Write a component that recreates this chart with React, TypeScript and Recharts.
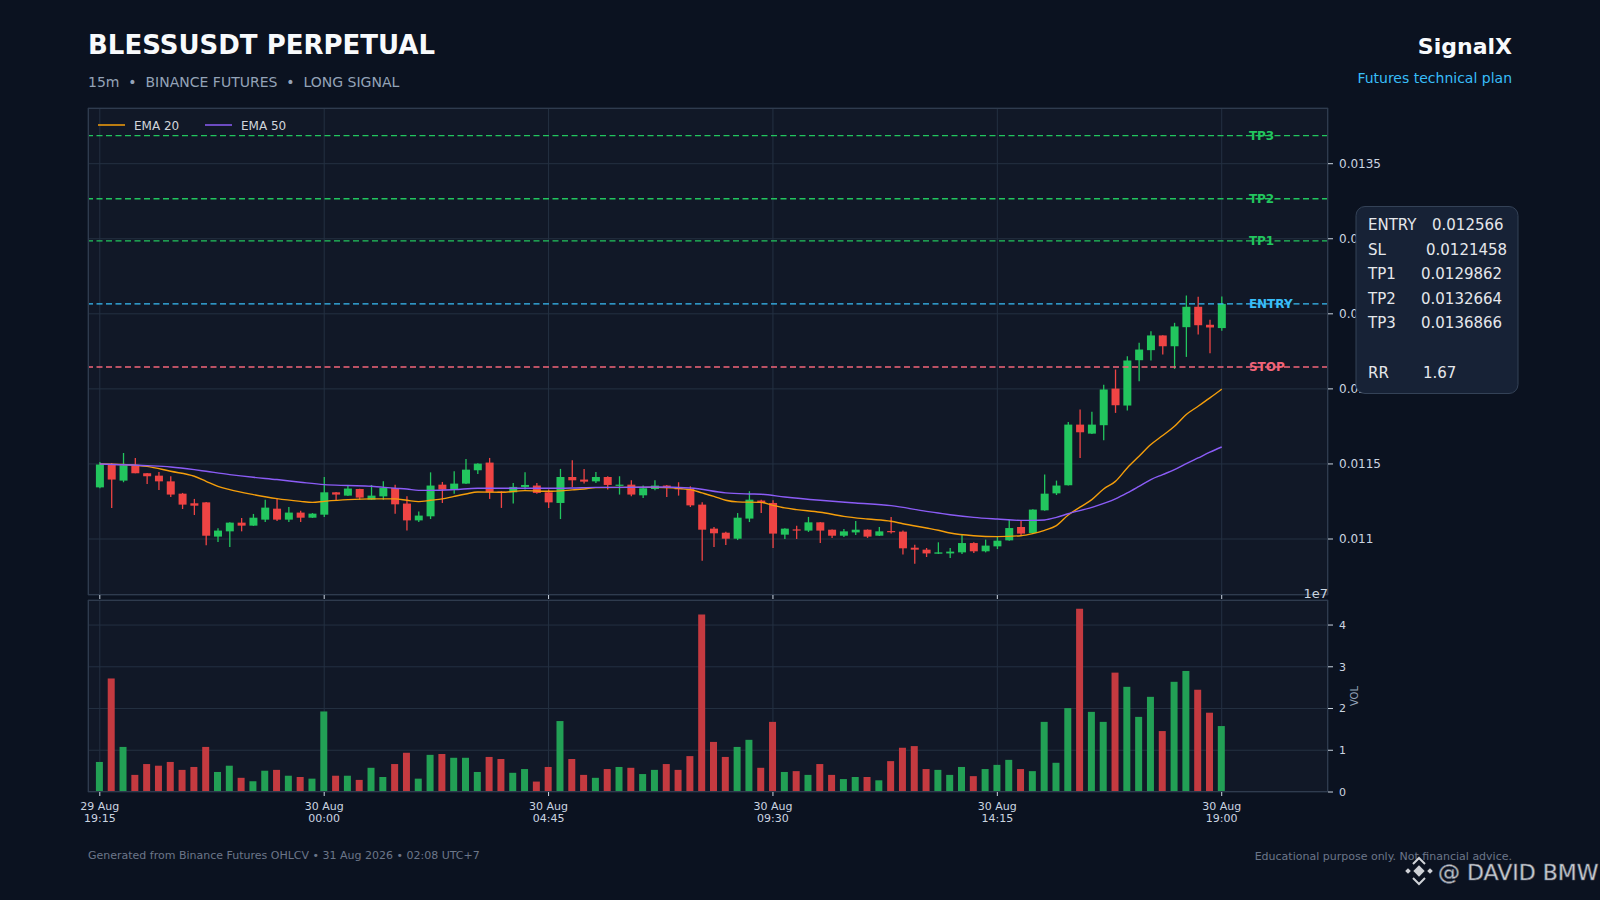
import { ComposedChart, Bar, Line, XAxis, YAxis, CartesianGrid, ReferenceLine, Cell } from "recharts";

// page + panel geometry (px)
const W = 1600;
const H = 900;
const PLOT_L = 88;
const PLOT_R = 1328;
const PRICE_TOP = 108;
const PRICE_BOTTOM = 595;
const VOL_TOP = 600;
const VOL_BOTTOM = 792;
const YAXIS_W = 60;

const BG = "#0b1220";
const PANEL = "#111827";
const GRID = "#243042";
const BORDER = "#2f3b4e";
const TICK = "#cbd5e1";
const GREEN = "#22c55e";
const RED = "#ef4444";
const VOL_GREEN = "#22a055";
const VOL_RED = "#c43a40";
const EMA20_COLOR = "#f59e0b";
const EMA50_COLOR = "#8b5cf6";
const ENTRY_COLOR = "#38bdf8";
const STOP_COLOR = "#f26479";
const FONT = "'DejaVu Sans', sans-serif";

// axes
const X_DOMAIN = [-1, 104];
const X_TICKS = [0, 19, 38, 57, 76, 95];
const X_TICK_LABELS = [
  ["29 Aug", "19:15"],
  ["30 Aug", "00:00"],
  ["30 Aug", "04:45"],
  ["30 Aug", "09:30"],
  ["30 Aug", "14:15"],
  ["30 Aug", "19:00"],
];
const PRICE_DOMAIN = [0.010627, 0.013871];
const PRICE_TICKS = [0.011, 0.0115, 0.012, 0.0125, 0.013, 0.0135];
const PRICE_TICK_LABELS = ["0.011", "0.0115", "0.012", "0.0125", "0.013", "0.0135"];
const VOL_DOMAIN = [0, 4.6];
const VOL_TICKS = [0, 1, 2, 3, 4];

// signal levels
const ENTRY = 0.012566;
const SL = 0.0121458;
const TP1 = 0.0129862;
const TP2 = 0.0132664;
const TP3 = 0.0136866;
const RR = 1.67;

// 15m candles, 29 Aug 19:15 -> 30 Aug 19:00
const OPEN = [
  0.011344, 0.011496, 0.011389, 0.011489, 0.011438, 0.011422, 0.011384, 0.011302, 0.011238, 0.011244,
  0.011016, 0.011051, 0.011109, 0.011089, 0.011129, 0.011202, 0.011129, 0.011176, 0.011142, 0.011162,
  0.011311, 0.011289, 0.011333, 0.011262, 0.011284, 0.01134, 0.011236, 0.011124, 0.011151, 0.011362,
  0.011329, 0.011369, 0.011458, 0.011509, 0.011316, 0.011311, 0.011347, 0.011356, 0.011311, 0.01124,
  0.011413, 0.011396, 0.011384, 0.011413, 0.011356, 0.011362, 0.011291, 0.011333, 0.011356, 0.011342,
  0.011333, 0.011229, 0.011069, 0.011042, 0.011002, 0.011136, 0.011256, 0.01124, 0.011029, 0.011064,
  0.011056, 0.011111, 0.011062, 0.011022, 0.011044, 0.011062, 0.011022, 0.011053, 0.011049, 0.010942,
  0.010929, 0.010902, 0.010904, 0.010911, 0.010973, 0.010918, 0.010951, 0.010991, 0.01108, 0.01104,
  0.011191, 0.011304, 0.011358, 0.011762, 0.011702, 0.011758, 0.012002, 0.011889, 0.012191, 0.012258,
  0.012356, 0.012284, 0.012411, 0.012547, 0.012427, 0.012405,
];
const HIGH = [
  0.011513, 0.011507, 0.011573, 0.01154, 0.01144, 0.011447, 0.011418, 0.011307, 0.011267, 0.011247,
  0.011071, 0.011111, 0.01114, 0.011167, 0.011262, 0.011267, 0.011213, 0.011189, 0.011173, 0.011413,
  0.011313, 0.01136, 0.011335, 0.01136, 0.011384, 0.011362, 0.011284, 0.011184, 0.011444, 0.01138,
  0.011451, 0.011533, 0.011504, 0.01154, 0.011318, 0.011373, 0.011444, 0.011373, 0.011329, 0.011467,
  0.011524, 0.011467, 0.011447, 0.011418, 0.011418, 0.011391, 0.011356, 0.011391, 0.01136, 0.011378,
  0.011351, 0.011244, 0.01108, 0.011049, 0.011173, 0.011318, 0.011262, 0.011258, 0.011071, 0.011089,
  0.011147, 0.011113, 0.011064, 0.011067, 0.01112, 0.011064, 0.01108, 0.011147, 0.011056, 0.010962,
  0.01094, 0.010978, 0.01094, 0.011029, 0.010978, 0.010996, 0.011018, 0.011129, 0.011124, 0.011198,
  0.011429, 0.011389, 0.01178, 0.011862, 0.011847, 0.012027, 0.012129, 0.012218, 0.012307, 0.012384,
  0.012358, 0.01244, 0.012622, 0.012613, 0.01246, 0.012615,
];
const LOW = [
  0.011338, 0.011207, 0.011378, 0.011438, 0.011367, 0.011327, 0.01128, 0.0112, 0.01116, 0.010958,
  0.01098, 0.010947, 0.011051, 0.011087, 0.011113, 0.01112, 0.011113, 0.011113, 0.01114, 0.011147,
  0.011256, 0.011287, 0.011262, 0.01126, 0.011262, 0.011169, 0.011056, 0.011113, 0.011133, 0.01124,
  0.011302, 0.011367, 0.011433, 0.011267, 0.011207, 0.011236, 0.011329, 0.011302, 0.011207, 0.011133,
  0.011347, 0.011369, 0.011373, 0.011329, 0.011296, 0.011284, 0.011273, 0.011324, 0.01128, 0.011289,
  0.011213, 0.010855, 0.010947, 0.01096, 0.010993, 0.011113, 0.011173, 0.01094, 0.011, 0.011,
  0.011047, 0.010973, 0.011007, 0.011013, 0.011027, 0.011007, 0.01102, 0.011036, 0.010896, 0.010835,
  0.01088, 0.0109, 0.010873, 0.0109, 0.010907, 0.010911, 0.010933, 0.010989, 0.011022, 0.011036,
  0.011189, 0.011293, 0.011356, 0.01154, 0.0117, 0.011658, 0.01184, 0.011856, 0.012051, 0.012189,
  0.012229, 0.012133, 0.012213, 0.012362, 0.012238, 0.012387,
];
const CLOSE = [
  0.011496, 0.011396, 0.011491, 0.011438, 0.011418, 0.011384, 0.011296, 0.011229, 0.011222, 0.011022,
  0.011056, 0.011109, 0.011089, 0.011142, 0.011209, 0.011129, 0.011176, 0.011142, 0.011169, 0.011311,
  0.011296, 0.011336, 0.011276, 0.011289, 0.01134, 0.011231, 0.011124, 0.011156, 0.011356, 0.011329,
  0.011369, 0.011462, 0.011502, 0.011311, 0.011311, 0.011347, 0.01136, 0.011307, 0.011244, 0.011413,
  0.011391, 0.011382, 0.011413, 0.01136, 0.011362, 0.011296, 0.011338, 0.011356, 0.011342, 0.011331,
  0.011224, 0.011062, 0.011038, 0.011002, 0.011142, 0.011262, 0.01124, 0.011036, 0.011069, 0.011056,
  0.011111, 0.011056, 0.011022, 0.011051, 0.011062, 0.011016, 0.011051, 0.011047, 0.010938, 0.010929,
  0.010904, 0.010911, 0.010916, 0.010973, 0.010918, 0.010956, 0.010989, 0.011073, 0.011036, 0.011196,
  0.011302, 0.011356, 0.011762, 0.011711, 0.011762, 0.011996, 0.011891, 0.012189, 0.012262, 0.012356,
  0.012284, 0.012416, 0.012547, 0.012424, 0.012409, 0.012566,
];
// volume in units of 1e7
const VOLUME_E7 = [
  0.72, 2.72, 1.08, 0.41, 0.67, 0.63, 0.72, 0.53, 0.6, 1.08,
  0.48, 0.63, 0.34, 0.26, 0.51, 0.53, 0.39, 0.36, 0.32, 1.93,
  0.39, 0.39, 0.29, 0.58, 0.36, 0.67, 0.94, 0.32, 0.89, 0.91,
  0.82, 0.82, 0.48, 0.84, 0.79, 0.46, 0.55, 0.25, 0.6, 1.7,
  0.79, 0.41, 0.34, 0.55, 0.6, 0.58, 0.43, 0.53, 0.67, 0.53,
  0.86, 4.25, 1.2, 0.84, 1.08, 1.25, 0.58, 1.68, 0.48, 0.5,
  0.41, 0.67, 0.41, 0.31, 0.36, 0.36, 0.28, 0.74, 1.06, 1.1,
  0.55, 0.53, 0.41, 0.6, 0.38, 0.55, 0.65, 0.77, 0.55, 0.5,
  1.68, 0.7, 2.01, 4.39, 1.92, 1.68, 2.86, 2.52, 1.8, 2.28,
  1.46, 2.64, 2.9, 2.45, 1.9, 1.58,
];

// EMA lines as [candle index, value]
const EMA20_POINTS = [
  [0, 0.0115], [2, 0.011496], [4, 0.011484], [6, 0.011451], [8, 0.011418], [9, 0.011384],
  [10, 0.011351], [11, 0.011329], [13, 0.011296], [15, 0.011269], [17, 0.011251], [18, 0.011244],
  [19, 0.011251], [21, 0.011262], [23, 0.011267], [25, 0.011267], [26, 0.011258], [27, 0.011249],
  [28, 0.011258], [29, 0.011267], [30, 0.011284], [31, 0.0113], [32, 0.011313], [34, 0.011311],
  [36, 0.011322], [38, 0.011318], [40, 0.011327], [41, 0.011333], [42, 0.011342], [45, 0.011344],
  [47, 0.011344], [50, 0.011329], [51, 0.011307], [52, 0.011284], [53, 0.011258], [54, 0.011247],
  [56, 0.011244], [57, 0.011224], [58, 0.011207], [59, 0.011196], [61, 0.011178], [63, 0.011151],
  [65, 0.011133], [67, 0.011118], [68, 0.011102], [70, 0.011073], [71, 0.011058], [72, 0.01104],
  [74, 0.011022], [76, 0.011016], [78, 0.011022], [79, 0.011036], [80, 0.011058], [81, 0.011089],
  [82, 0.01116], [83, 0.011212], [84, 0.011262], [85, 0.011333], [86, 0.011384], [87, 0.011473],
  [88, 0.011551], [89, 0.011629], [90, 0.011689], [91, 0.011751], [92, 0.011829], [93, 0.011884],
  [94, 0.01194], [95, 0.011998],
];
const EMA50_POINTS = [
  [0, 0.0115], [4, 0.011489], [6, 0.01148], [8, 0.011462], [9, 0.011451], [11, 0.011429],
  [13, 0.011411], [15, 0.011396], [17, 0.011378], [19, 0.011362], [21, 0.011356], [23, 0.011351],
  [25, 0.011338], [26, 0.011333], [27, 0.011324], [28, 0.011324], [30, 0.011329], [32, 0.011338],
  [34, 0.011338], [36, 0.011338], [38, 0.011338], [40, 0.01134], [42, 0.011344], [44, 0.011344],
  [47, 0.011346], [50, 0.01134], [53, 0.011307], [55, 0.0113], [56, 0.011298], [58, 0.01128],
  [61, 0.011258], [64, 0.01124], [67, 0.011222], [70, 0.011184], [71, 0.011173], [72, 0.011162],
  [74, 0.011144], [76, 0.011133], [78, 0.011124], [79, 0.011124], [80, 0.011127], [81, 0.011144],
  [82, 0.011168], [84, 0.011211], [86, 0.011267], [87, 0.011307], [88, 0.011351], [89, 0.011396],
  [90, 0.011429], [91, 0.011462], [92, 0.011502], [93, 0.01154], [94, 0.011578], [95, 0.011613],
];

const ema20 = new Map(EMA20_POINTS.map(([i, v]) => [i, v]));
const ema50 = new Map(EMA50_POINTS.map(([i, v]) => [i, v]));

const rows = CLOSE.map((close, i) => ({
  i,
  open: OPEN[i],
  high: HIGH[i],
  low: LOW[i],
  close,
  range: [LOW[i], HIGH[i]],
  vol: VOLUME_E7[i],
  ema20: ema20.has(i) ? ema20.get(i) : null,
  ema50: ema50.has(i) ? ema50.get(i) : null,
}));

const LEVELS = [
  { name: "TP3", value: TP3, color: GREEN },
  { name: "TP2", value: TP2, color: GREEN },
  { name: "TP1", value: TP1, color: GREEN },
  { name: "ENTRY", value: ENTRY, color: ENTRY_COLOR },
  { name: "STOP", value: SL, color: STOP_COLOR },
];
const LEVEL_LABEL_X = 97.3; // candle-index position of the level tags

const INFO_ROWS = [
  { label: "ENTRY", value: "0.012566", vx: 1432 },
  { label: "SL", value: "0.0121458", vx: 1426 },
  { label: "TP1", value: "0.0129862", vx: 1421 },
  { label: "TP2", value: "0.0132664", vx: 1421 },
  { label: "TP3", value: "0.0136866", vx: 1421 },
];

function Candle(props: any) {
  const { x, y, width, height, payload } = props;
  if (!payload || !Number.isFinite(y)) return null;
  const { open, close, high, low } = payload;
  const top = Math.min(y, y + height);
  const h = Math.abs(height);
  const k = high > low ? h / (high - low) : 0;
  const py = (v: number) => top + (high - v) * k;
  const color = close >= open ? GREEN : RED;
  const cx = x + width / 2;
  const bodyTop = py(Math.max(open, close));
  const bodyH = Math.max(1.2, Math.abs(py(open) - py(close)));
  return (
    <g>
      <line x1={cx} x2={cx} y1={top} y2={top + h} stroke={color} strokeWidth={1.3} />
      <rect x={x} y={bodyTop} width={width} height={bodyH} fill={color} />
    </g>
  );
}

const EmptyTick = () => <g />;

function DateTick(props: any) {
  const { x, y, payload } = props;
  const idx = X_TICKS.indexOf(payload.value);
  if (idx < 0) return <g />;
  const [d, t] = X_TICK_LABELS[idx];
  return (
    <text textAnchor="middle" fill={TICK} fontSize={11} fontFamily={FONT}>
      <tspan x={x} y={y + 12}>{d}</tspan>
      <tspan x={x} y={y + 23.5}>{t}</tspan>
    </text>
  );
}

function levelLabel(name: string, color: string) {
  return (props: any) => {
    const vb = props.viewBox || {};
    const frac = (LEVEL_LABEL_X - X_DOMAIN[0]) / (X_DOMAIN[1] - X_DOMAIN[0]);
    return (
      <text
        x={vb.x + vb.width * frac}
        y={vb.y}
        dy="0.36em"
        fill={color}
        fontSize={12}
        fontWeight="bold"
        fontFamily={FONT}
      >
        {name}
      </text>
    );
  };
}

function PricePanel() {
  return (
    <ComposedChart
      width={W}
      height={H}
      data={rows}
      margin={{ top: PRICE_TOP, right: W - PLOT_R - YAXIS_W, bottom: H - PRICE_BOTTOM - 6, left: PLOT_L }}
    >
      <CartesianGrid stroke={GRID} fill={PANEL} fillOpacity={1} />
      <XAxis
        dataKey="i"
        type="number"
        domain={X_DOMAIN}
        ticks={X_TICKS}
        interval={0}
        allowDataOverflow
        height={6}
        tickSize={4}
        axisLine={false}
        tickLine={{ stroke: TICK }}
        tick={EmptyTick}
      />
      <YAxis
        orientation="right"
        type="number"
        domain={PRICE_DOMAIN}
        ticks={PRICE_TICKS}
        interval={0}
        allowDataOverflow
        width={YAXIS_W}
        tickSize={5}
        tickMargin={6}
        axisLine={false}
        tickLine={{ stroke: TICK }}
        tick={{ fill: TICK, fontSize: 12, fontFamily: FONT }}
        tickFormatter={(v) => PRICE_TICK_LABELS[PRICE_TICKS.indexOf(v)] ?? String(v)}
      />
      {LEVELS.map((l) => (
        <ReferenceLine
          key={l.name}
          y={l.value}
          stroke={l.color}
          strokeWidth={1.3}
          strokeDasharray="6 3.5"
          ifOverflow="extendDomain"
          label={levelLabel(l.name, l.color)}
        />
      ))}
      <Line type="monotone" dataKey="ema20" stroke={EMA20_COLOR} strokeWidth={1.4} dot={false} connectNulls isAnimationActive={false} />
      <Line type="monotone" dataKey="ema50" stroke={EMA50_COLOR} strokeWidth={1.4} dot={false} connectNulls isAnimationActive={false} />
      <Bar dataKey="range" barSize={8} shape={(p: any) => <Candle {...p} />} isAnimationActive={false} />
    </ComposedChart>
  );
}

function VolumePanel() {
  return (
    <ComposedChart
      width={W}
      height={H}
      data={rows}
      margin={{ top: VOL_TOP, right: W - PLOT_R - YAXIS_W, bottom: H - VOL_BOTTOM - 40, left: PLOT_L }}
    >
      <CartesianGrid stroke={GRID} fill={PANEL} fillOpacity={1} />
      <XAxis
        dataKey="i"
        type="number"
        domain={X_DOMAIN}
        ticks={X_TICKS}
        interval={0}
        allowDataOverflow
        height={40}
        tickSize={4}
        axisLine={false}
        tickLine={{ stroke: TICK }}
        tick={DateTick}
      />
      <YAxis
        orientation="right"
        type="number"
        domain={VOL_DOMAIN}
        ticks={VOL_TICKS}
        interval={0}
        allowDataOverflow
        width={YAXIS_W}
        tickSize={5}
        tickMargin={6}
        axisLine={false}
        tickLine={{ stroke: TICK }}
        tick={{ fill: TICK, fontSize: 11, fontFamily: FONT }}
      />
      <Bar dataKey="vol" barSize={7} isAnimationActive={false}>
        {rows.map((r) => (
          <Cell key={r.i} fill={r.close >= r.open ? VOL_GREEN : VOL_RED} />
        ))}
      </Bar>
    </ComposedChart>
  );
}

const layer: any = { position: "absolute", left: 0, top: 0, width: W, height: H };

export default function App() {
  return (
    <div style={{ ...layer, background: BG, fontFamily: FONT, overflow: "hidden" }}>
      <div style={layer}>
        <PricePanel />
      </div>
      <div style={layer}>
        <VolumePanel />
      </div>
      <svg style={{ ...layer, pointerEvents: "none" }} width={W} height={H} fontFamily={FONT}>
        {/* panel frames */}
        <rect x={PLOT_L + 0.5} y={PRICE_TOP + 0.5} width={PLOT_R - PLOT_L - 1} height={PRICE_BOTTOM - PRICE_TOP - 1} fill="none" stroke={BORDER} />
        <rect x={PLOT_L + 0.5} y={VOL_TOP + 0.5} width={PLOT_R - PLOT_L - 1} height={VOL_BOTTOM - VOL_TOP - 1} fill="none" stroke={BORDER} />

        {/* header */}
        <text x={88} y={54} fill="#f8fafc" fontSize={26} fontWeight="bold">BLESSUSDT PERPETUAL</text>
        <text x={88} y={86.5} fill="#94a3b8" fontSize={14} xmlSpace="preserve">15m  •  BINANCE FUTURES  •  LONG SIGNAL</text>
        <text x={1512} y={54} fill="#f8fafc" fontSize={22} fontWeight="bold" textAnchor="end">SignalX</text>
        <text x={1512} y={83} fill={ENTRY_COLOR} fontSize={14} textAnchor="end">Futures technical plan</text>

        {/* legend */}
        <line x1={98} x2={125} y1={125} y2={125} stroke={EMA20_COLOR} strokeWidth={1.5} />
        <text x={134} y={129.5} fill="#d1d5db" fontSize={12}>EMA 20</text>
        <line x1={205} x2={232} y1={125} y2={125} stroke={EMA50_COLOR} strokeWidth={1.5} />
        <text x={241} y={129.5} fill="#d1d5db" fontSize={12}>EMA 50</text>

        {/* volume axis extras */}
        <text x={PLOT_R} y={598} fill={TICK} fontSize={13} textAnchor="end">1e7</text>
        <text x={1354} y={696} fill="#94a3b8" fontSize={10} textAnchor="middle" dominantBaseline="central" transform="rotate(-90 1354 696)">VOL</text>

        {/* trade plan box */}
        <rect x={1356} y={206.5} width={162} height={187} rx={9} fill="#172236" stroke="#344257" strokeWidth={1} />
        {INFO_ROWS.map((r, k) => (
          <g key={r.label} fill="#e5e7eb" fontSize={15}>
            <text x={1368} y={230 + k * 24.5}>{r.label}</text>
            <text x={r.vx} y={230 + k * 24.5}>{r.value}</text>
          </g>
        ))}
        <text x={1368} y={378} fill="#e5e7eb" fontSize={15}>RR</text>
        <text x={1423} y={378} fill="#e5e7eb" fontSize={15}>{RR.toFixed(2)}</text>

        {/* footer */}
        <text x={88} y={859} fill="#6b7689" fontSize={11}>Generated from Binance Futures OHLCV • 31 Aug 2026 • 02:08 UTC+7</text>
        <text x={1512} y={860} fill="#6b7689" fontSize={11} textAnchor="end">Educational purpose only. Not financial advice.</text>

        {/* watermark */}
        <g transform="translate(1419 871)" fill="none" stroke="#e5e7eb" strokeWidth={2} opacity={0.9}>
          <rect x={-4} y={-4} width={8} height={8} transform="rotate(45)" fill="#e5e7eb" stroke="none" />
          <path d="M -6 -7 L 0 -13 L 6 -7 M -6 7 L 0 13 L 6 7" />
          <rect x={-13} y={-2} width={4} height={4} transform="rotate(45 -11 0)" fill="#e5e7eb" stroke="none" />
          <rect x={9} y={-2} width={4} height={4} transform="rotate(45 11 0)" fill="#e5e7eb" stroke="none" />
        </g>
        <text x={1438} y={880} fill="#e5e7eb" fontSize={22} stroke="#6b7280" strokeWidth={0.6} opacity={0.9}>@ DAVID BMW</text>
      </svg>
    </div>
  );
}
